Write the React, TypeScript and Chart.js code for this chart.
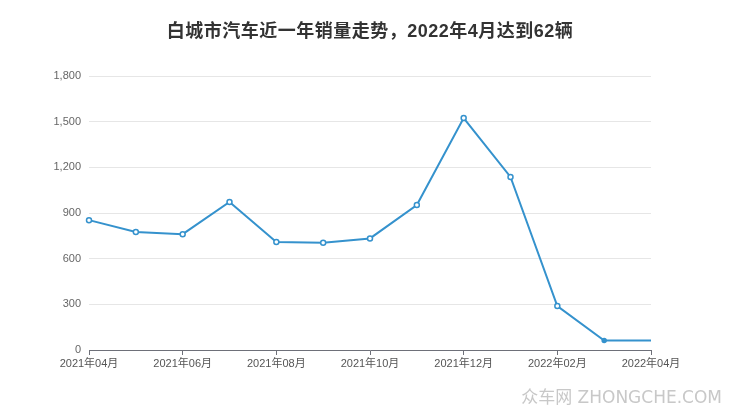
import React, { useEffect, useRef } from "react";
import { Chart, registerables } from "chart.js";

Chart.register(...registerables);

const months = [
  "2021年04月", "2021年05月", "2021年06月", "2021年07月", "2021年08月", "2021年09月",
  "2021年10月", "2021年11月", "2021年12月", "2022年01月", "2022年02月", "2022年03月", "2022年04月",
];
const sales = [853, 775, 761, 972, 709, 704, 733, 952, 1524, 1137, 289, 62, 62];
const yTicks = [0, 300, 600, 900, 1200, 1500, 1800];
const titleText = "白城市汽车近一年销量走势，2022年4月达到62辆";
const watermarkText = "众车网 ZHONGCHE.COM";

const LINE = "#3592cd";

export default function App() {
  const ref = useRef<HTMLCanvasElement | null>(null);

  useEffect(() => {
    if (!ref.current) return;
    const overlay = {
      id: "overlay",
      afterDraw(chart: any) {
        const ctx = chart.ctx;
        ctx.save();
        ctx.fillStyle = "#333333";
        ctx.font = 'bold 18px "Liberation Sans", "Noto Sans CJK SC", sans-serif';
        ctx.textAlign = "center";
        ctx.textBaseline = "middle";
        try { (ctx as any).letterSpacing = "0.5px"; } catch (e) {}
        ctx.fillText(titleText, 370, 32);
        try { (ctx as any).letterSpacing = "0px"; } catch (e) {}
        ctx.fillStyle = "#c8c8c8";
        ctx.font = '17px "DejaVu Sans", "Noto Sans CJK SC", sans-serif';
        ctx.textAlign = "right";
        ctx.fillText(watermarkText, 722, 399);
        ctx.restore();
      },
    };
    const chart = new Chart(ref.current, {
      type: "line",
      data: {
        labels: months,
        datasets: [
          {
            data: sales,
            borderColor: LINE,
            borderWidth: 2,
            backgroundColor: "#ffffff",
            pointBorderColor: LINE,
            pointBackgroundColor: (c: any) => (c.dataIndex === sales.length - 2 ? LINE : "#ffffff"),
            pointRadius: (c: any) =>
              c.dataIndex === sales.length - 1 ? 0 : c.dataIndex === sales.length - 2 ? 2 : 2.5,
            pointBorderWidth: 1.5,
            tension: 0,
            fill: false,
          },
        ],
      },
      options: {
        animation: false,
        responsive: false,
        maintainAspectRatio: false,
        layout: { padding: { left: 0, right: 89, top: 76, bottom: 0 } },
        plugins: { legend: { display: false }, title: { display: false }, tooltip: { enabled: false } },
        scales: {
          x: {
            offset: false,
            grid: {
              drawOnChartArea: false,
              drawTicks: true,
              tickLength: 5,
              color: "#6e7079",
            },
            border: { display: true, color: "#6e7079", width: 1 },
            ticks: {
              autoSkip: false,
              maxRotation: 0,
              padding: 2,
              color: "#555555",
              font: { size: 11, family: '"Liberation Sans", "Noto Sans CJK SC", sans-serif' },
              callback: (v: any, i: number) => (i % 2 === 0 ? months[i] : null),
            },
            afterFit: (s: any) => {
              s.height = 67;
            },
          },
          y: {
            min: 0,
            max: 1800,
            afterBuildTicks: (s: any) => {
              s.ticks = yTicks.map((v) => ({ value: v }));
            },
            grid: { color: "#e6e6e6", drawTicks: false, lineWidth: 1 },
            border: { display: false },
            ticks: {
              padding: 8,
              color: "#666666",
              font: { size: 11, family: '"Liberation Sans", sans-serif' },
              callback: (v: any) => Number(v).toLocaleString("en-US"),
            },
            afterFit: (s: any) => {
              s.width = 89;
            },
          },
        },
      },
      plugins: [overlay],
    });
    return () => chart.destroy();
  }, []);

  return (
    <div style={{ position: "fixed", left: 0, top: 0, width: 740, height: 417, background: "#fff" }}>
      <canvas ref={ref} width={740} height={417} style={{ width: 740, height: 417 }} />
    </div>
  );
}
